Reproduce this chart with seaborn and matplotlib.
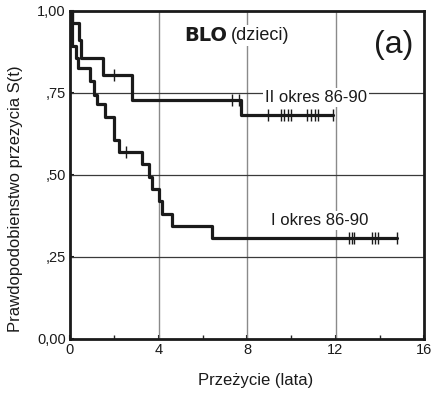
import numpy as np
import pandas as pd
import matplotlib
matplotlib.use("Agg")
import matplotlib.pyplot as plt
import seaborn as sns

# ---- data ----
# group II okres 86-90
ev_t_II = [0.10, 0.40, 0.50, 1.47, 2.81, 7.72]
ev_s_II = [0.963, 0.912, 0.857, 0.806, 0.729, 0.683]
cens_II = [1.97, 7.32, 7.62, 8.97, 9.54, 9.69, 9.84, 10.01, 10.69, 10.91,
           11.06, 11.21, 11.90]
end_II = 11.90

# group I okres 86-90
ev_t_I = [0.10, 0.25, 0.36, 0.90, 1.10, 1.22, 1.56, 2.00, 2.22, 3.26, 3.59,
          3.71, 4.00, 4.15, 4.60, 6.43]
ev_s_I = [0.893, 0.857, 0.827, 0.786, 0.745, 0.716, 0.678, 0.607, 0.571,
          0.535, 0.495, 0.456, 0.422, 0.380, 0.345, 0.307]
cens_I = [2.54, 12.63, 12.73, 12.85, 13.67, 13.79, 13.90, 14.80]
end_I = 14.80

groups = ["II okres 86-90", "I okres 86-90"]
x_ticks = [0, 4, 8, 12, 16]
y_ticks = [0.0, 0.25, 0.5, 0.75, 1.0]
y_tick_labels = ["0,00", ",25", ",50", ",75", "1,00"]


def step_frame(ev_t, ev_s, end, name):
    t = [0.0] + list(ev_t) + [end]
    s = [1.0] + list(ev_s) + [ev_s[-1]]
    return pd.DataFrame({"t": t, "S": s, "grp": name})


def surv_at(ev_t, ev_s, times):
    idx = np.searchsorted(np.array(ev_t), np.array(times), side="right")
    s = np.concatenate([[1.0], ev_s])
    return s[idx]


steps = pd.concat([step_frame(ev_t_II, ev_s_II, end_II, groups[0]),
                   step_frame(ev_t_I, ev_s_I, end_I, groups[1])],
                  ignore_index=True)
cens = pd.concat([
    pd.DataFrame({"t": cens_II, "S": surv_at(ev_t_II, ev_s_II, cens_II),
                  "grp": groups[0]}),
    pd.DataFrame({"t": cens_I, "S": surv_at(ev_t_I, ev_s_I, cens_I),
                  "grp": groups[1]}),
], ignore_index=True)

sns.set_style("white")
plt.rcParams["font.family"] = ["Liberation Sans", "DejaVu Sans"]

fig = plt.figure(figsize=(4.33, 3.93), dpi=100)
ax = fig.add_axes([70 / 433, 1 - 339 / 393, 354 / 433, 328 / 393])

for gx in [4, 8, 12]:
    ax.axvline(gx, color="#8a8a8a", lw=1.0, zorder=1)
for gy in [0.25, 0.5, 0.75]:
    ax.axhline(gy, color="#3a3a3a", lw=0.9, zorder=1)

sns.lineplot(data=steps, x="t", y="S", units="grp", estimator=None,
             sort=False, drawstyle="steps-post", color="#1a1a1a",
             lw=2.3, ax=ax, zorder=3, legend=False)
sns.scatterplot(data=cens, x="t", y="S", marker="|", s=64, color="#1a1a1a",
                linewidth=1.0, ax=ax, zorder=4, legend=False)

ax.set_xlim(0, 16)
ax.set_ylim(0, 1)
ax.set_xticks(x_ticks)
ax.set_xticks([2, 6, 10, 14], minor=True)
ax.set_yticks(y_ticks)
ax.set_yticklabels(y_tick_labels)
ax.tick_params(axis="both", which="major", direction="in", length=3,
               width=1.5, labelsize=10.5, colors="#1a1a1a", pad=3)
ax.tick_params(axis="x", which="minor", direction="in", length=3, width=1,
               bottom=True)
ax.tick_params(axis="x", which="major", bottom=True)
ax.tick_params(axis="y", which="major", left=True)

for sp in ax.spines.values():
    sp.set_visible(True)
    sp.set_color("#1a1a1a")
    sp.set_linewidth(2.0)

ax.set_xlabel("Przeżycie (lata)", fontsize=12, color="#1a1a1a")
ax.set_ylabel("Prawdopodobienstwo przezycia S(t)", fontsize=12,
              color="#1a1a1a")
ax.xaxis.set_label_coords(0.525, -0.105)
ax.yaxis.set_label_coords(-0.132, 0.427)

bbox = dict(facecolor="white", edgecolor="none", pad=1.5)
ax.text(8.80, 0.735, groups[0], fontsize=12, va="center", ha="left",
        bbox=bbox, zorder=2, color="#1a1a1a")
ax.text(9.10, 0.36, groups[1], fontsize=12, va="center", ha="left",
        bbox=bbox, zorder=2, color="#1a1a1a")
blo = ax.text(5.15, 0.925, "BLO", fontsize=14, fontweight="heavy",
              family=["DejaVu Sans"], va="center", ha="left", bbox=bbox,
              zorder=2, color="#1a1a1a")
ax.annotate("(dzieci)", xy=(1.0, 0.5), xycoords=blo, xytext=(3, 0),
            textcoords="offset points", fontsize=13, va="center", ha="left",
            bbox=bbox, zorder=2, color="#1a1a1a")
ax.text(13.75, 0.895, "(a)", fontsize=23, va="center", ha="left",
        color="#1a1a1a", zorder=2)

fig.savefig("out.png", dpi=100)
